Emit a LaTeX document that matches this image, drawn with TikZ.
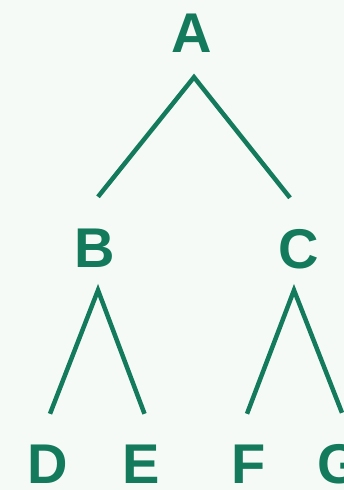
\documentclass[tikz,border=0pt]{standalone}
\usepackage{fontspec}
\setmainfont{Liberation Sans}
\usepackage{tikz}
\usetikzlibrary{calc}
\definecolor{treegreen}{HTML}{137A5C}
\definecolor{paper}{HTML}{F5FAF7}

\begin{document}
\begin{tikzpicture}[x=1pt,y=1pt,
  letter/.style={inner sep=0pt, text height=40pt, text depth=0pt,
    text=treegreen, font=\fontsize{56}{60}\selectfont\bfseries},
  branch/.style={treegreen, line width=4.5pt}]
  % Background and picture size
  \fill[paper] (0,0) rectangle (344,490);
  \useasboundingbox (0,0) rectangle (344,490);

  % Draw the letters
  \node[letter] (A) at (192,457) {A};
  \node[letter] (B) at (95,242) {B};
  \node[letter] (C) at (299,241) {C};
  \node[letter] (D) at (48,26) {D};
  \node[letter] (E) at (141.5,26) {E};
  \node[letter] (F) at (249,26) {F};
  \node[letter] (G) at (339,26) {G};

  % Draw the branches
  \draw[branch] ([xshift=3pt,yshift=31pt]B.north) -- ([xshift=2pt,yshift=-24pt]A.south)
    -- ([xshift=-9pt,yshift=31pt]C.north);
  \draw[branch] ([xshift=2pt,yshift=30pt]D.north) -- ([xshift=3pt,yshift=-22pt]B.south)
    -- ([xshift=3pt,yshift=30pt]E.north);
  \draw[branch] ([xshift=-2pt,yshift=30pt]F.north) -- ([xshift=-5pt,yshift=-21pt]C.south)
    -- ([xshift=3pt,yshift=31pt]G.north);

\end{tikzpicture}
\end{document}
